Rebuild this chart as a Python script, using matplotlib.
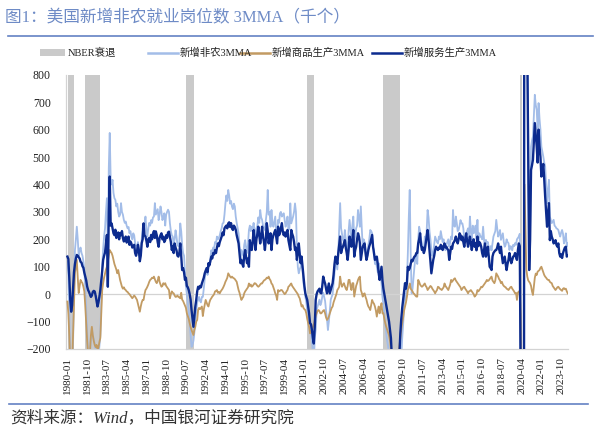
import numpy as np
import pandas as pd
import matplotlib
matplotlib.use("Agg")
import matplotlib.pyplot as plt
from matplotlib.lines import Line2D
from matplotlib.patches import Rectangle

# monthly 3MMA changes (thousands), 1980-01 .. 2024-05
nonfarm_3mma = [
    120, 70, -80, -250, -350, -320, -180, 10, 160, 200, 246, 200,          # 1980
    140, 160, 170, 150, 140, 120, 90, 20, -60, -140, -230, -260,           # 1981
    -220, -160, -130, -150, -165, -180, -200, -210, -240, -230, -190, -150,  # 1982
    -20, 105, 165, 210, 240, 300, 350, 160, 460, 588, 420, 400,            # 1983
    417, 369, 350, 344, 320, 330, 300, 283, 290, 332, 300, 290,            # 1984
    271, 260, 265, 250, 240, 245, 222, 230, 210, 200, 222, 215,            # 1985
    186, 175, 160, 190, 165, 137, 150, 200, 240, 258, 250, 283,            # 1986
    230, 210, 240, 260, 250, 270, 260, 280, 283, 332, 290, 300,            # 1987
    310, 270, 290, 320, 300, 270, 280, 295, 250, 290, 300, 308,            # 1988
    300, 258, 230, 215, 210, 180, 200, 233, 210, 180, 175, 190,            # 1989
    258, 230, 180, 150, 140, 80, 30, 0, -30, -60, -100, -150,              # 1990
    -192, -185, -170, -140, -100, -60, -30, -20, -10, -25, -30, -10,       # 1991
    -10, 20, 55, 85, 90, 70, 95, 110, 130, 160, 150, 170,                  # 1992
    165, 190, 185, 210, 200, 205, 215, 230, 240, 258, 260, 290,            # 1993
    330, 360, 340, 380, 360, 330, 340, 319, 310, 330, 320, 283,            # 1994
    260, 240, 222, 180, 125, 161, 150, 140, 180, 197, 170, 150,            # 1995
    180, 234, 250, 230, 246, 240, 260, 230, 197, 240, 250, 280,            # 1996
    260, 307, 280, 271, 250, 240, 234, 270, 300, 380, 290, 300,            # 1997
    246, 307, 260, 246, 265, 283, 220, 200, 271, 260, 295, 300,            # 1998
    283, 290, 295, 270, 246, 260, 283, 234, 240, 331, 258, 270,            # 1999
    283, 300, 331, 300, 173, 100, 76, 90, 100, 137, 90, 40,                # 2000
    20, -9, -30, -60, -82, -100, -120, -140, -170, -210, -250, -160,       # 2001
    -130, -58, -45, -33, -20, -40, -30, -9, 5, -10, -25, -60,              # 2002
    -90, -131, -100, -60, -20, -10, 0, 40, 76, 130, 110, 90,               # 2003
    150, 240, 332, 240, 220, 198, 190, 234, 200, 180, 160, 230,            # 2004
    271, 234, 200, 250, 283, 198, 210, 240, 250, 307, 280, 246,            # 2005
    320, 240, 173, 200, 190, 161, 150, 140, 180, 200, 234, 230,            # 2006
    222, 170, 161, 110, 120, 100, 80, 113, 60, 70, 40, -10,                # 2007
    -40, -80, -110, -140, -170, -190, -220, -270, -340, -450, -620, -760,  # 2008
    -790, -760, -740, -660, -540, -430, -320, -230, -160, -110, -50, 0,    # 2009
    -20, 50, 150, 280, 380, 150, 3, 20, 60, 100, 130, 140,                 # 2010
    110, 200, 246, 230, 200, 185, 160, 150, 210, 200, 230, 307,            # 2011
    280, 230, 200, 161, 140, 150, 180, 210, 200, 190, 185, 210,            # 2012
    200, 230, 210, 190, 200, 173, 160, 180, 190, 200, 173, 190,            # 2013
    210, 200, 307, 250, 246, 283, 260, 230, 234, 250, 270, 258,            # 2014
    258, 240, 200, 210, 210, 230, 240, 200, 283, 230, 200, 250,            # 2015
    222, 230, 250, 200, 271, 180, 222, 210, 210, 200, 246, 200,            # 2016
    161, 198, 185, 190, 170, 161, 175, 160, 186, 210, 220, 230,            # 2017
    271, 240, 210, 220, 234, 198, 210, 222, 190, 173, 180, 200,            # 2018
    190, 186, 161, 175, 173, 160, 180, 175, 186, 180, 200, 205,            # 2019
    210, 220, -460, -7300, -6400, -4300, 3100, 2700, 1300, 980, 560, 150,  # 2020
    250, 538, 560, 575, 648, 727, 690, 672, 600, 697, 640, 600,            # 2021
    538, 520, 502, 480, 466, 400, 332, 380, 417, 283, 270, 259,            # 2022
    265, 271, 250, 246, 240, 238, 234, 220, 210, 225, 234, 220,            # 2023
    185, 200, 222, 173, 186,                                               # 2024
]

goods_3mma = [
    -27, -70, -150, -240, -300, -260, -150, -30, 77, 100, 125, 60,
    4, 30, 52, 45, 40, 27, 10, -45, -110, -170, -220, -240,
    -210, -150, -119, -150, -170, -185, -193, -185, -200, -195, -175, -160,
    -69, 15, 40, 60, 75, 90, 100, 120, 140, 161, 155, 150,
    140, 125, 110, 100, 90, 76, 88, 70, 52, 40, 27, 20,
    25, 18, 15, 10, 8, 3, 0, -5, -10, -15, -10, -5,
    -9, -15, -21, -35, -50, -64, -45, -30, -21, -21, 0, 15,
    20, 27, 35, 45, 52, 55, 60, 58, 64, 55, 45, 40,
    50, 64, 45, 35, 27, 30, 40, 35, 40, 30, 25, 20,
    15, -15, 0, 10, 5, 3, -5, -10, -9, -5, -10, -12,
    -15, 5, -20, -25, -33, -40, -50, -70, -80, -90, -106, -120,
    -131, -140, -149, -130, -119, -100, -94, -57, -50, -55, -50, -45,
    -80, -57, -40, -21, -30, -40, -45, -30, -20, -15, -9, -5,
    0, 10, 12, 15, 5, 8, 3, 10, 15, 20, 27, 35,
    45, 52, 60, 76, 70, 64, 60, 64, 60, 58, 55, 50,
    45, 30, 15, 5, -9, -21, -15, -10, 3, 10, 15, 20,
    25, 39, 30, 35, 27, 30, 35, 40, 39, 35, 30, 27,
    30, 35, 39, 39, 45, 50, 52, 55, 60, 58, 64, 55,
    50, 39, 35, 25, 15, 3, -5, -21, 15, 10, 12, 15,
    15, 10, 5, 0, 3, 10, 15, 27, 30, 35, 39, 30,
    25, 20, 15, 10, 5, 0, -9, -15, -30, -45, -40, -50,
    -55, -58, -70, -90, -106, -120, -143, -135, -131, -120, -110, -94,
    -80, -70, -60, -58, -62, -70, -70, -65, -60, -58, -70, -85,
    -94, -90, -82, -70, -60, -50, -45, -30, -20, -9, 0, 15,
    20, 27, 64, 40, 27, 35, 40, 30, 20, 15, 30, 52,
    52, 30, 15, 40, 40, -9, 10, 30, 40, 52, 60, 64,
    15, 5, -9, 0, 3, -10, -20, -35, -45, -50, -58, -40,
    -21, -30, -35, -45, -60, -82, -60, -45, -70, -50, -33, -70,
    -70, -90, -106, -119, -130, -140, -150, -170, -200, -230, -270, -300,
    -310, -300, -300, -270, -230, -190, -160, -130, -106, -85, -60, -45,
    -30, -10, 15, 25, 39, 20, 15, 10, 3, 0, -5, -9,
    -9, 52, 45, 35, 30, 27, 30, 35, 39, 30, 25, 15,
    20, 25, 30, 27, 20, 15, 10, 3, 10, 15, 27, 25,
    20, 18, 15, 20, 25, 39, 30, 25, 20, 15, 25, 35,
    52, 45, 50, 55, 58, 50, 45, 40, 35, 30, 25, 15,
    20, 25, 27, 20, 15, 10, 3, 10, 12, 15, 10, 5,
    0, -9, -5, 0, 15, 10, 15, 20, 27, 25, 30, 35,
    40, 45, 52, 48, 50, 55, 60, 64, 50, 45, 40, 50,
    76, 70, 64, 55, 50, 40, 45, 35, 30, 27, 25, 20,
    18, 15, 20, 25, 27, 20, 15, 10, 3, 5, -21, 5,
    10, 8, -80, -870, -650, -430, 400, 250, 90, 64, 50, 45,
    40, 30, 10, -3, 30, 60, 75, 70, 82, 85, 88, 96,
    100, 90, 80, 70, 64, 60, 55, 52, 52, 45, 42, 40,
    30, 25, 20, 15, 20, 25, 27, 22, 18, 15, 12, 20,
    22, 18, 20, 10, 3,
]

services_3mma = [
    137, 128, 60, -20, -64, -40, 20, 80, 110, 130, 143, 140,
    135, 130, 118, 115, 102, 96, 78, 64, 50, 28, 15, 8,
    -2, -10, -5, 8, 12, 10, -5, -25, -45, -30, -10, 15,
    50, 85, 125, 140, 152, 185, 216, 27, 300, 429, 250, 258,
    240, 222, 215, 235, 205, 210, 225, 200, 222, 215, 230, 205,
    192, 200, 210, 188, 195, 210, 180, 192, 185, 170, 173, 180,
    150, 140, 155, 180, 160, 120, 140, 186, 200, 258, 215, 210,
    195, 173, 200, 205, 190, 216, 200, 220, 230, 205, 229, 215,
    190, 173, 205, 215, 222, 200, 210, 190, 197, 215, 205, 225,
    228, 210, 190, 161, 175, 150, 185, 170, 160, 140, 137, 150,
    185, 140, 88, 95, 80, 52, 60, 30, 25, 15, 0, -20,
    -58, -90, -119, -80, -45, -20, 10, 27, 20, 30, 25, 39,
    50, 60, 76, 85, 95, 80, 113, 105, 120, 137, 130, 150,
    145, 161, 150, 170, 185, 175, 190, 200, 210, 225, 215, 240,
    246, 250, 240, 258, 262, 245, 259, 240, 234, 250, 245, 235,
    215, 200, 185, 150, 113, 125, 110, 100, 140, 161, 135, 113,
    130, 100, 197, 175, 161, 190, 234, 200, 161, 200, 220, 246,
    215, 185, 210, 246, 210, 190, 161, 200, 259, 230, 185, 210,
    222, 161, 200, 215, 225, 234, 210, 185, 246, 215, 222, 240,
    259, 230, 215, 225, 210, 225, 234, 197, 180, 161, 234, 220,
    210, 190, 161, 170, 125, 150, 185, 150, 113, 137, 100, 64,
    30, 3, -10, -21, -45, -70, -106, -110, -131, -160, -180, -120,
    -21, 0, 10, 15, 20, 5, 3, 30, 64, 50, 39, 20,
    3, 20, 39, 3, 15, 27, 40, 70, 110, 137, 125, 110,
    150, 180, 210, 150, 165, 173, 185, 197, 170, 150, 125, 160,
    210, 190, 173, 200, 234, 137, 160, 173, 200, 222, 210, 185,
    125, 150, 173, 180, 185, 150, 125, 140, 161, 175, 185, 200,
    216, 173, 150, 125, 130, 137, 110, 76, 52, 75, 100, 50,
    20, 0, -20, -40, -60, -80, -100, -130, -160, -230, -350, -460,
    -470, -450, -430, -380, -300, -220, -143, -90, -50, -20, 10, 40,
    20, 40, 100, 88, 95, 110, 125, 120, 130, 137, 140, 150,
    150, 185, 200, 222, 180, 161, 170, 150, 161, 185, 210, 234,
    200, 161, 120, 76, 100, 125, 140, 161, 173, 165, 161, 170,
    165, 180, 173, 161, 175, 185, 170, 173, 165, 161, 125, 150,
    173, 165, 185, 190, 197, 210, 195, 185, 200, 222, 215, 197,
    210, 190, 173, 200, 222, 195, 173, 190, 210, 185, 161, 190,
    200, 173, 185, 160, 210, 175, 190, 185, 173, 150, 137, 160,
    185, 137, 150, 173, 140, 100, 95, 88, 137, 150, 155, 160,
    161, 170, 185, 165, 150, 173, 140, 113, 125, 137, 110, 88,
    110, 125, 150, 130, 113, 125, 137, 140, 150, 135, 125, 160,
    185, 175, -320, -6800, -5900, -3900, 2900, 2500, 1200, 900, 480, 88,
    200, 453, 470, 490, 560, 624, 580, 539, 480, 600, 540, 500,
    429, 450, 475, 420, 356, 300, 246, 290, 332, 197, 230, 210,
    200, 185, 190, 197, 180, 173, 185, 150, 137, 145, 132, 150,
    161, 170, 173, 137, 140,
]

# NBER recession months (month after peak .. trough)
rec_start = ["1980-02", "1981-08", "1990-08", "2001-04", "2008-01", "2020-03"]
rec_end = ["1980-07", "1982-11", "1991-03", "2001-11", "2009-06", "2020-04"]

months = pd.period_range("1980-01", periods=len(nonfarm_3mma), freq="M")
x = np.arange(len(months))
labels = [p.strftime("%Y-%m") for p in months]

serif_cjk = ["Liberation Serif", "Noto Sans CJK SC"]
c_total = "#A3BDE8"
c_goods = "#C29B63"
c_serv = "#0C2B8E"
c_rec = "#CACACA"

W, H = 600, 448
fig = plt.figure(figsize=(6, 4.48), dpi=100)
ax = fig.add_axes([0.11, 0.221, 0.837, 0.612])

for s, e in zip(rec_start, rec_end):
    i0 = months.get_loc(pd.Period(s, freq="M"))
    i1 = months.get_loc(pd.Period(e, freq="M"))
    ax.axvspan(i0 - 0.5, i1 + 0.5, color=c_rec, lw=0, zorder=0)

ax.axhline(0, color="#D3D3D3", lw=0.9, zorder=1)
ax.plot(x, nonfarm_3mma, color=c_total, lw=1.3, zorder=2)
ax.plot(x, goods_3mma, color=c_goods, lw=1.3, zorder=3)
ax.plot(x, services_3mma, color=c_serv, lw=1.7, zorder=4)

ax.set_xlim(-1.5, len(x) - 0.5)
ax.set_ylim(-200, 800)
ax.set_yticks(range(-200, 801, 100))
ax.set_xticks(x[::21])
ax.set_xticklabels(labels[::21], rotation=90, family="Liberation Serif", fontsize=8)
for t in ax.get_yticklabels():
    t.set_family("Liberation Serif")
    t.set_fontsize(8.5)
ax.tick_params(axis="both", length=0, colors="#222222")
ax.tick_params(axis="y", pad=11)
ax.tick_params(axis="x", pad=6)
for side in ["top", "right"]:
    ax.spines[side].set_visible(False)
for side in ["left", "bottom"]:
    ax.spines[side].set_color("#D3D3D3")
    ax.spines[side].set_linewidth(0.9)

# legend drawn by hand to get the uneven spacing of the original
ly = 1 - 53 / H
fig.add_artist(Rectangle((40 / W, 1 - 56.5 / H), 25 / W, 7 / H,
                         transform=fig.transFigure, facecolor=c_rec, edgecolor="none"))
fig.text(68 / W, ly, "NBER衰退", family=serif_cjk, fontsize=7.5, va="center", color="#222222")
for x0, col, name in [(148, c_total, "新增非农3MMA"),
                      (240, c_goods, "新增商品生产3MMA"),
                      (372, c_serv, "新增服务生产3MMA")]:
    fig.add_artist(Line2D([x0 / W, (x0 + 30) / W], [ly, ly], color=col, lw=1.8))
    fig.text((x0 + 32) / W, ly, name, family=serif_cjk, fontsize=7.5, va="center",
             color="#222222")

fig.text(0.008, 0.96, "图1：美国新增非农就业岗位数 3MMA（千个）", family=serif_cjk,
         fontsize=12, color="#6E8BC6", va="center", ha="left")
fig.add_artist(Line2D([0.013, 0.988], [0.92, 0.92], color="#6482C4", lw=1.2))
fig.add_artist(Line2D([0.015, 0.98], [0.099, 0.099], color="#6482C4", lw=1.2))
fig.text(0.017, 0.067, "资料来源：Wind，中国银河证券研究院", family=serif_cjk,
         style="italic", fontsize=12, color="#333333", va="center", ha="left")

fig.savefig("out.png", dpi=100)
